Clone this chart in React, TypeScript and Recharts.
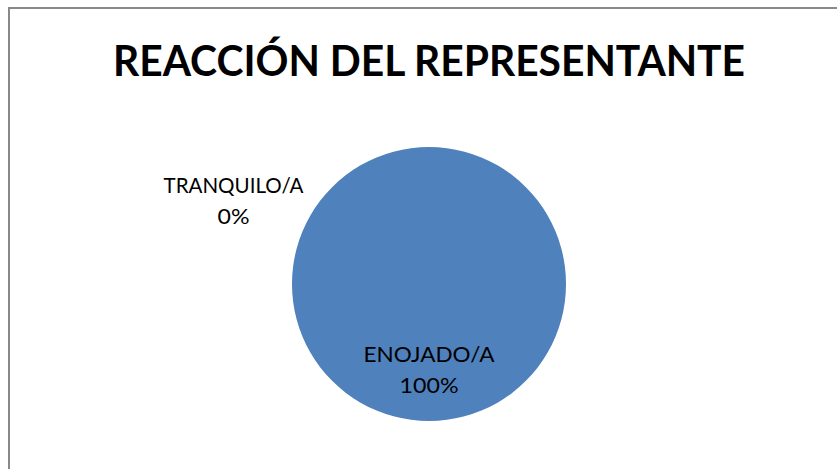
import { Pie, PieChart } from "recharts";

const categories = ["TRANQUILO/A", "ENOJADO/A"];
const values = [0, 100];
const chartTitle = "REACCIÓN DEL REPRESENTANTE";

const data = categories.map((name, i) => ({ name, value: values[i] }));

const RADIAN = Math.PI / 180;
const FONT = "Lato, 'Open Sans', sans-serif";

const textWidths: Record<string, number> = {
  "TRANQUILO/A": 140,
  "ENOJADO/A": 131,
  "0%": 32,
  "100%": 59,
};

function renderLabel(props: any) {
  const { cx, cy, midAngle, outerRadius, percent, name } = props;
  let x: number;
  let y: number;
  if (percent === 0) {
    // excel's best-fit puts the empty slice outside, up and to the left
    const angle = 157 * RADIAN;
    x = cx + outerRadius * 1.55 * Math.cos(angle);
    y = cy - outerRadius * 1.55 * Math.sin(angle);
  } else {
    const r = outerRadius * 0.63;
    x = cx + r * Math.cos(-midAngle * RADIAN);
    y = cy + r * Math.sin(-midAngle * RADIAN);
  }
  const pct = `${Math.round(percent * 100)}%`;
  return (
    <g>
      <text
        x={x}
        y={y - 8}
        textAnchor="middle"
        fill="#000"
        fontFamily={FONT}
        fontSize={22}
        textLength={textWidths[name]}
        lengthAdjust="spacingAndGlyphs"
      >
        {name}
      </text>
      <text
        x={x}
        y={y + 23}
        textAnchor="middle"
        fill="#000"
        fontFamily={FONT}
        fontSize={22}
        textLength={textWidths[pct]}
        lengthAdjust="spacingAndGlyphs"
      >
        {pct}
      </text>
    </g>
  );
}

export default function App() {
  return (
    <div
      style={{
        position: "fixed",
        left: 0,
        top: 0,
        width: 837,
        height: 469,
        background: "#fff",
        overflow: "hidden",
      }}
    >
      <div
        style={{
          position: "absolute",
          left: 8,
          top: 7,
          width: 880,
          height: 520,
          borderTop: "2px solid #898989",
          borderLeft: "2px solid #898989",
        }}
      />
      <svg
        width={837}
        height={469}
        style={{ position: "absolute", left: 0, top: 0 }}
      >
        <text
          x={429}
          y={76}
          textAnchor="middle"
          fill="#000"
          fontFamily={FONT}
          fontWeight={700}
          fontSize={42}
          textLength={632}
          lengthAdjust="spacingAndGlyphs"
        >
          {chartTitle}
        </text>
      </svg>
      <div style={{ position: "absolute", left: 0, top: 0 }}>
        <PieChart
          width={837}
          height={469}
          margin={{ top: 0, right: 0, bottom: 0, left: 0 }}
        >
          <Pie
            data={data}
            dataKey="value"
            nameKey="name"
            cx={429}
            cy={284}
            outerRadius={137}
            startAngle={90}
            endAngle={-270}
            fill="#4F81BD"
            stroke="none"
            label={renderLabel}
            labelLine={false}
            isAnimationActive={false}
          />
        </PieChart>
      </div>
    </div>
  );
}
